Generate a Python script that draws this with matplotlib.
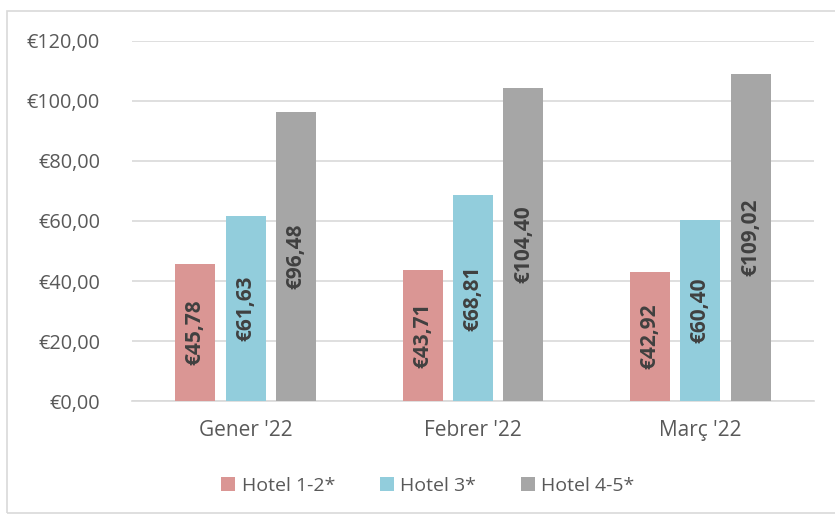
import numpy as np
import matplotlib.pyplot as plt
from matplotlib.patches import Rectangle

# dades
mesos = ["Gener '22", "Febrer '22", "Març '22"]
series = ['Hotel 1-2*', 'Hotel 3*', 'Hotel 4-5*']
hotel_12 = [45.78, 43.71, 42.92]
hotel_3 = [61.63, 68.81, 60.40]
hotel_45 = [96.48, 104.40, 109.02]
colors = ['#DA9694', '#92CDDC', '#A6A6A6']

plt.rcParams['font.family'] = ['Open Sans', 'DejaVu Sans']

fig = plt.figure(figsize=(8.35, 5.15), dpi=100)
ax = fig.add_axes([132 / 835, 1 - 401 / 515, 682 / 835, 360 / 515])

x = np.arange(len(mesos))
w = 0.176
step = 0.222
for i, (vals, name) in enumerate(zip([hotel_12, hotel_3, hotel_45], series)):
    bars = ax.bar(x + (i - 1) * step, vals, w, color=colors[i], label=name, zorder=3)
    for b, v in zip(bars, vals):
        lbl = '€' + f'{v:.2f}'.replace('.', ',')
        ax.text(b.get_x() + b.get_width() / 2, v / 2, lbl, rotation=90,
                ha='center', va='center', fontsize=15, fontweight='bold',
                color='#404040', zorder=4)

ax.set_xlim(-0.5, 2.5)
ax.set_ylim(0, 120)
ax.set_yticks(np.arange(0, 121, 20))
ax.set_yticklabels(['€' + f'{t:.2f}'.replace('.', ',') for t in np.arange(0, 121, 20)])
ax.set_xticks(x)
ax.set_xticklabels(mesos)
ax.tick_params(axis='both', length=0, labelcolor='#595959')
ax.tick_params(axis='y', pad=23, labelsize=14.3)
ax.tick_params(axis='x', pad=14, labelsize=15)
ax.grid(axis='y', color='#D9D9D9', linewidth=1.2, zorder=0)
for s in ['top', 'right', 'left']:
    ax.spines[s].set_visible(False)
ax.spines['bottom'].set_color('#D9D9D9')
ax.spines['bottom'].set_linewidth(1.2)

leg = fig.legend(loc='center', bbox_to_anchor=(428 / 835, 1 - 486 / 515), ncol=3,
                 frameon=False, fontsize=14, handlelength=0.7, handleheight=0.7,
                 handletextpad=0.35, columnspacing=2.3)
for t in leg.get_texts():
    t.set_color('#595959')

# vora del gràfic
fig.patches.append(Rectangle((7 / 835, 0.003), 1, 1 - 11 / 515 - 0.003, transform=fig.transFigure,
                             fill=False, edgecolor='#D9D9D9', linewidth=1.2))

fig.savefig('out.png', dpi=100)
